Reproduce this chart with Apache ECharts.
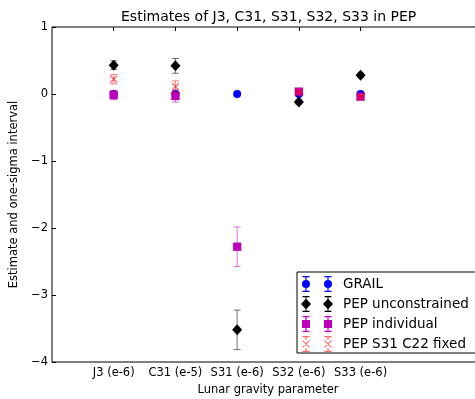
<!DOCTYPE html>
<html>
<head>
<meta charset="utf-8">
<script src="https://cdn.jsdelivr.net/npm/echarts@6/dist/echarts.min.js"></script>
<style>
  html, body { margin: 0; padding: 0; background: #fff; }
  #chart { width: 475px; height: 399px; }
</style>
</head>
<body>
<div id="chart"></div>
<script>
// Parameter names on the x axis (positions 1..5)
const categories = ['J3 (e-6)', 'C31 (e-5)', 'S31 (e-6)', 'S32 (e-6)', 'S33 (e-6)'];
const yTicks = [-4, -3, -2, -1, 0, 1];

// Estimates and one-sigma errors per solution
const grailVal = [0, 0, 0, 0, 0];
const grailErr = [0.01, 0.01, 0.01, 0.01, 0.01];
const unconVal = [0.43, 0.42, -3.52, -0.12, 0.28];
const unconErr = [0.065, 0.11, 0.295, 0.03, 0.03];
const indivVal = [-0.015, -0.03, -2.28, 0.035, -0.04];
const indivErr = [0.07, 0.09, 0.295, 0.02, 0.02];
const fixedVal = [0.22, 0.11, null, 0.035, -0.04];
const fixedErr = [0.07, 0.085, null, 0.02, 0.02];

const FONT = 'DejaVu Sans';

function rows(vals, errs) {
  const out = [];
  vals.forEach((v, i) => { if (v !== null) out.push([i + 1, v, errs[i]]); });
  return out;
}

// legend glyph: two markers with error bars
function glyph(kind) {
  let p = '';
  [6, 28].forEach(cx => {
    let t = 4, b = 12;
    if (kind === 'circle') p += `M${cx-4},8A4,4 0 1 1 ${cx+4},8A4,4 0 1 1 ${cx-4},8Z`;
    if (kind === 'diamond') { p += `M${cx},2.5L${cx+5},8L${cx},13.5L${cx-5},8Z`; t = 2.5; b = 13.5; }
    if (kind === 'square') p += `M${cx-4},4H${cx+4}V12H${cx-4}Z`;
    if (kind === 'x') {
      p += `M${cx-4},4.7L${cx-3.3},4L${cx+4},11.3L${cx+3.3},12Z`;
      p += `M${cx+3.3},4L${cx+4},4.7L${cx-3.3},12L${cx-4},11.3Z`;
      t = 4; b = 12;
    }
    p += `M${cx-0.6},1.2H${cx+0.6}V${t}H${cx-0.6}Z`;
    p += `M${cx-0.6},${b}H${cx+0.6}V14.8H${cx-0.6}Z`;
    p += `M${cx-3.5},0H${cx+3.5}V1.2H${cx-3.5}Z`;
    p += `M${cx-3.5},14.8H${cx+3.5}V16H${cx-3.5}Z`;
  });
  return 'path://' + p;
}

function errorBars(name, data, color, z) {
  return {
    name: name, type: 'custom', z: z, data: data,
    renderItem: function (params, api) {
      const x = api.value(0), y = api.value(1), e = api.value(2);
      const top = api.coord([x, y + e]);
      const bot = api.coord([x, y - e]);
      const h = 3.5;
      const st = { stroke: color, lineWidth: 1 };
      return {
        type: 'group',
        children: [
          { type: 'line', shape: { x1: top[0], y1: top[1], x2: bot[0], y2: bot[1] }, style: st },
          { type: 'line', shape: { x1: top[0] - h, y1: top[1], x2: top[0] + h, y2: top[1] }, style: st },
          { type: 'line', shape: { x1: bot[0] - h, y1: bot[1], x2: bot[0] + h, y2: bot[1] }, style: st }
        ]
      };
    }
  };
}

function markers(name, data, symbol, size, itemStyle, z) {
  return {
    name: name, type: 'scatter', z: z, symbol: symbol, symbolSize: size,
    data: data.map(d => [d[0], d[1]]), itemStyle: Object.assign({ opacity: 1 }, itemStyle),
    emphasis: { disabled: true }
  };
}

const sets = [
  { name: 'GRAIL', data: rows(grailVal, grailErr), bar: 'rgba(0,0,255,0.55)', sym: 'circle', size: 8,
    style: { color: '#0000ff' }, icon: glyph('circle'), iconColor: '#0000ff' },
  { name: 'PEP unconstrained', data: rows(unconVal, unconErr), bar: 'rgba(0,0,0,0.55)', sym: 'diamond', size: [10, 11],
    style: { color: '#000000' }, icon: glyph('diamond'), iconColor: '#000000' },
  { name: 'PEP individual', data: rows(indivVal, indivErr), bar: 'rgba(191,0,191,0.55)', sym: 'rect', size: 8,
    style: { color: '#bf00bf', borderColor: 'rgba(120,0,120,0.6)', borderWidth: 0.5 }, icon: glyph('square'), iconColor: '#bf00bf' },
  { name: 'PEP S31 C22 fixed', data: rows(fixedVal, fixedErr), bar: 'rgba(255,0,0,0.5)', sym: 'path://M0,0L10,10M10,0L0,10', size: 7,
    style: { color: 'rgba(0,0,0,0)', borderColor: 'rgba(255,0,0,0.6)', borderWidth: 1.4 }, icon: glyph('x'), iconColor: 'rgba(255,0,0,0.6)' }
];

const series = [];
sets.forEach((s, i) => {
  series.push(errorBars(s.name, s.data, s.bar, 2 + 2 * i));
  series.push(markers(s.name, s.data, s.sym, s.size, s.style, 3 + 2 * i));
});

const tickVals = categories.map((c, i) => i + 1);

const chart = echarts.init(document.getElementById('chart'), null, { renderer: 'canvas' });
chart.setOption({
  animation: false,
  backgroundColor: '#ffffff',
  textStyle: { fontFamily: FONT },
  title: {
    text: 'Estimates of J3, C31, S31, S32, S33 in PEP',
    left: 121, top: 10, padding: 0,
    textStyle: { fontFamily: FONT, fontSize: 14, fontWeight: 'normal', color: '#000' }
  },
  grid: {
    left: 52, top: 27, width: 432, height: 335,
    outerBoundsMode: 'none', containLabel: false,
    show: true, borderColor: '#000', borderWidth: 1, backgroundColor: 'transparent'
  },
  xAxis: [
    {
      type: 'value', position: 'bottom', min: 0, max: 7, interval: 1,
      name: 'Lunar gravity parameter', nameLocation: 'middle', nameGap: 20,
      nameTextStyle: { fontFamily: FONT, fontSize: 11.5, color: '#000' },
      axisLine: { show: false }, splitLine: { show: false },
      axisTick: { show: true, inside: true, length: 4, customValues: tickVals, lineStyle: { color: '#000' } },
      axisLabel: { customValues: tickVals, margin: 5, fontFamily: FONT, fontSize: 11.5, color: '#000',
        formatter: v => categories[Math.round(v) - 1] || '' }
    },
    {
      type: 'value', position: 'top', min: 0, max: 7, interval: 1,
      axisLine: { show: false }, splitLine: { show: false },
      axisTick: { show: true, inside: true, length: 4, customValues: tickVals, lineStyle: { color: '#000' } },
      axisLabel: { show: false }
    }
  ],
  yAxis: [
    {
      type: 'value', min: yTicks[0], max: yTicks[yTicks.length - 1], interval: 1,
      name: 'Estimate and one-sigma interval', nameLocation: 'middle', nameGap: 24,
      nameTextStyle: { fontFamily: FONT, fontSize: 11.5, color: '#000' },
      axisLine: { show: false }, splitLine: { show: false },
      axisTick: { show: true, inside: true, length: 4, lineStyle: { color: '#000' } },
      axisLabel: { margin: 4, fontFamily: FONT, fontSize: 11.5, color: '#000',
        formatter: v => (v < 0 ? '\u2212' + Math.abs(v) : String(v)) }
    }
  ],
  legend: {
    orient: 'vertical', left: 297, top: 272,
    padding: [4, 16, 1, 4], itemGap: 4, itemWidth: 36, itemHeight: 16,
    backgroundColor: '#ffffff', borderColor: '#000', borderWidth: 1, borderRadius: 0,
    selectedMode: false, z: 20,
    textStyle: { fontFamily: FONT, fontSize: 13.5, color: '#000', lineHeight: 16, padding: [0, 0, 0, 3] },
    data: sets.map(s => ({ name: s.name, icon: s.icon, itemStyle: { color: s.iconColor, borderWidth: 0, opacity: 1 } }))
  },
  series: series
});
</script>
</body>
</html>
